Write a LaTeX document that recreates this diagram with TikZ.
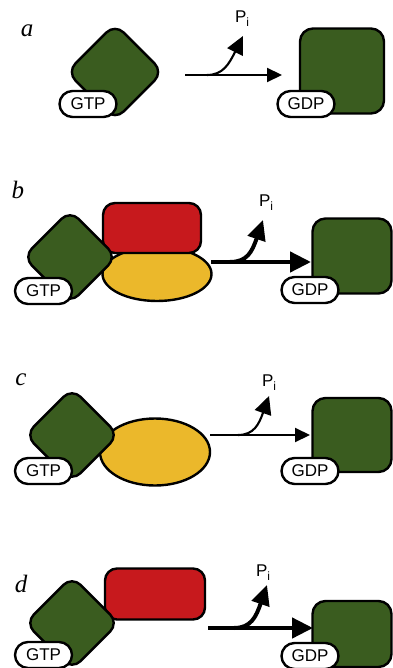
\documentclass[tikz,border=0pt]{standalone}
\usepackage{fontspec}
\setmainfont{Liberation Serif}
\newfontfamily\pillfont{Liberation Sans}
\usetikzlibrary{arrows.meta,shapes.geometric,shapes.misc}
\definecolor{gfill}{HTML}{3A5C1F}
\definecolor{rfill}{HTML}{C7191D}
\definecolor{yfill}{HTML}{EBB82B}
\newcommand{\Pilabel}{{\pillfont\fontsize{17}{17}\selectfont P\raisebox{-4pt}{\fontsize{12}{12}\selectfont i}}}
\begin{document}
\begin{tikzpicture}[x=1pt,y=-1pt,
  outl/.style={draw=black, line width=2.4pt},
  gtpase/.style={outl, fill=gfill, rounded corners=12pt, inner sep=0pt, rotate=45},
  gdpbody/.style={outl, fill=gfill, rounded corners=13pt, inner sep=0pt},
  redbody/.style={outl, fill=rfill, rounded corners=12pt, inner sep=0pt},
  yelbody/.style={outl, fill=yfill, ellipse, inner sep=0pt},
  pill/.style={outl, fill=white, rounded rectangle, inner sep=0pt,
    minimum width=57pt, minimum height=26pt,
    font=\pillfont\fontsize{17}{17}\selectfont},
  panel/.style={font=\fontsize{25}{25}\selectfont\itshape, inner sep=0pt},
  pilab/.style={inner sep=0pt},
  thinarr/.style={line width=2.1pt, -{Triangle[length=15pt,width=14pt]}},
  thickarr/.style={line width=4.5pt, -{Triangle[length=21pt,width=20pt]}},
  thinrel/.style={line width=2.1pt, -{Triangle[length=18pt,width=17pt]}},
  thickrel/.style={line width=4pt, -{Triangle[length=20pt,width=18pt]}},
]
\useasboundingbox (0,0) rectangle (392,668);

% ---------- a: GTPase alone ----------
\node[panel] (la) at (27,31) {a};
\node[gtpase, minimum size=68pt] (ga) at (115,72) {};
\node[pill] (gtpa) at (88,104) {GTP};
\node[gdpbody, minimum width=84pt, minimum height=85pt] (sa) at (342,71) {};
\node[pill] (gdpa) at (306,104) {GDP};
\coordinate (a1) at (185,75);
\coordinate (a2) at (282,75);
\coordinate (ab) at (207,75);
\coordinate (at) at (243,36);
\draw[thinarr] (a1) -- (a2);
\draw[thinrel] (ab) .. controls (223,75) and (229,64) .. (at);
\node[pilab] (pa) at (242,19) {\Pilabel};

% ---------- b: GTPase with GAP and effector ----------
\node[panel] (lb) at (18,190) {b};
\node[yelbody, minimum width=109pt, minimum height=54pt] (yb) at (157,274) {};
\node[redbody, minimum width=98pt, minimum height=50pt] (rb) at (152,228) {};
\node[gtpase, minimum size=66pt] (gb) at (70,257) {};
\node[pill] (gtpb) at (43.5,291) {GTP};
\node[gdpbody, minimum width=79pt, minimum height=75pt] (sb) at (352,256) {};
\node[pill] (gdpb) at (310,290) {GDP};
\coordinate (b1) at (211,262);
\coordinate (b2) at (311,262);
\coordinate (bb) at (230,262);
\coordinate (bt) at (263,220);
\draw[thickarr] (b1) -- (b2);
\draw[thickrel] (bb) .. controls (247,262) and (252,252) .. (bt);
\node[pilab] (pb) at (266,203) {\Pilabel};

% ---------- c: GTPase with GAP ----------
\node[panel] (lc) at (21,380) {c};
\node[yelbody, minimum width=110pt, minimum height=67pt] (yc) at (155,452) {};
\node[gtpase, minimum size=66pt] (gc) at (72,435) {};
\node[pill] (gtpc) at (43.5,471) {GTP};
\node[gdpbody, minimum width=79pt, minimum height=74pt] (sc) at (352,435) {};
\node[pill] (gdpc) at (310,471) {GDP};
\coordinate (c1) at (210,435);
\coordinate (c2) at (310,435);
\coordinate (cb) at (238,435);
\coordinate (ct) at (269,396);
\draw[thinarr] (c1) -- (c2);
\draw[thinrel] (cb) .. controls (254,435) and (259,424) .. (ct);
\node[pilab] (pc) at (269,383) {\Pilabel};

% ---------- d: GTPase with effector ----------
\node[panel] (ld) at (21,584) {d};
\node[redbody, minimum width=100pt, minimum height=51pt] (rd) at (155,594) {};
\node[gtpase, minimum size=66pt] (gd) at (72,623) {};
\node[pill] (gtpd) at (43.5,655) {GTP};
\node[gdpbody, minimum width=79pt, minimum height=66pt] (sd) at (352,634) {};
\node[pill] (gdpd) at (310,656) {GDP};
\coordinate (d1) at (208,628);
\coordinate (d2) at (313,628);
\coordinate (db) at (234,628);
\coordinate (dt) at (267,585);
\draw[thickarr] (d1) -- (d2);
\draw[thickrel] (db) .. controls (251,628) and (256,617) .. (dt);
\node[pilab] (pd) at (263,573) {\Pilabel};
\end{tikzpicture}
\end{document}
